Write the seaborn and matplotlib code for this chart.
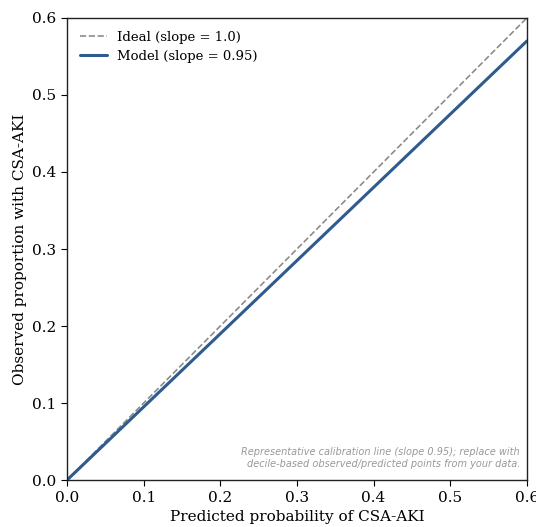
import numpy as np
import pandas as pd
import matplotlib
matplotlib.use("Agg")
import matplotlib.pyplot as plt
import seaborn as sns

# Calibration line endpoints
predicted = [0.0, 0.6]
ideal_obs = [0.0, 0.6]
model_obs = [0.0, 0.57]
ticks = [0.0, 0.1, 0.2, 0.3, 0.4, 0.5, 0.6]

sns.set_style("ticks")
plt.rcParams['font.family'] = ['DejaVu Serif']
plt.rcParams['text.color'] = 'black'
plt.rcParams['axes.labelcolor'] = 'black'
plt.rcParams['xtick.color'] = 'black'
plt.rcParams['ytick.color'] = 'black'

fig = plt.figure(figsize=(5.36, 5.27), dpi=100)
ax = fig.add_axes([0.125, 0.089, 0.858, 0.877])

df = pd.DataFrame({
    'Predicted': predicted + predicted,
    'Observed': ideal_obs + model_obs,
    'Line': ['Ideal (slope = 1.0)'] * 2 + ['Model (slope = 0.95)'] * 2,
})

sns.lineplot(data=df[df['Line'].str.startswith('Ideal')], x='Predicted', y='Observed',
             ax=ax, color='#8c8c8c', linestyle='--', linewidth=1.2,
             label='Ideal (slope = 1.0)')
sns.lineplot(data=df[df['Line'].str.startswith('Model')], x='Predicted', y='Observed',
             ax=ax, color='#2f5b8f', linewidth=2.2,
             label='Model (slope = 0.95)')

ax.set_xlim(0, 0.6)
ax.set_ylim(0, 0.6)
ax.set_xticks(ticks)
ax.set_yticks(ticks)
ax.set_xticklabels([f'{t:.1f}' for t in ticks])
ax.set_yticklabels([f'{t:.1f}' for t in ticks])
ax.tick_params(labelsize=11, direction='out', length=4)
for s in ax.spines.values():
    s.set_color('#222222')
    s.set_linewidth(1.0)
ax.set_xlabel('Predicted probability of CSA-AKI', fontsize=11)
ax.set_ylabel('Observed proportion with CSA-AKI', fontsize=11)

leg = ax.legend(loc='upper left', frameon=False, fontsize=9.5,
                borderaxespad=0.6, labelspacing=0.45)

ax.text(0.985, 0.025,
        'Representative calibration line (slope 0.95); replace with\n'
        'decile-based observed/predicted points from your data.',
        transform=ax.transAxes, ha='right', va='bottom', fontsize=7,
        style='italic', color='#999999', family='DejaVu Sans')

fig.savefig('out.png', dpi=100)
